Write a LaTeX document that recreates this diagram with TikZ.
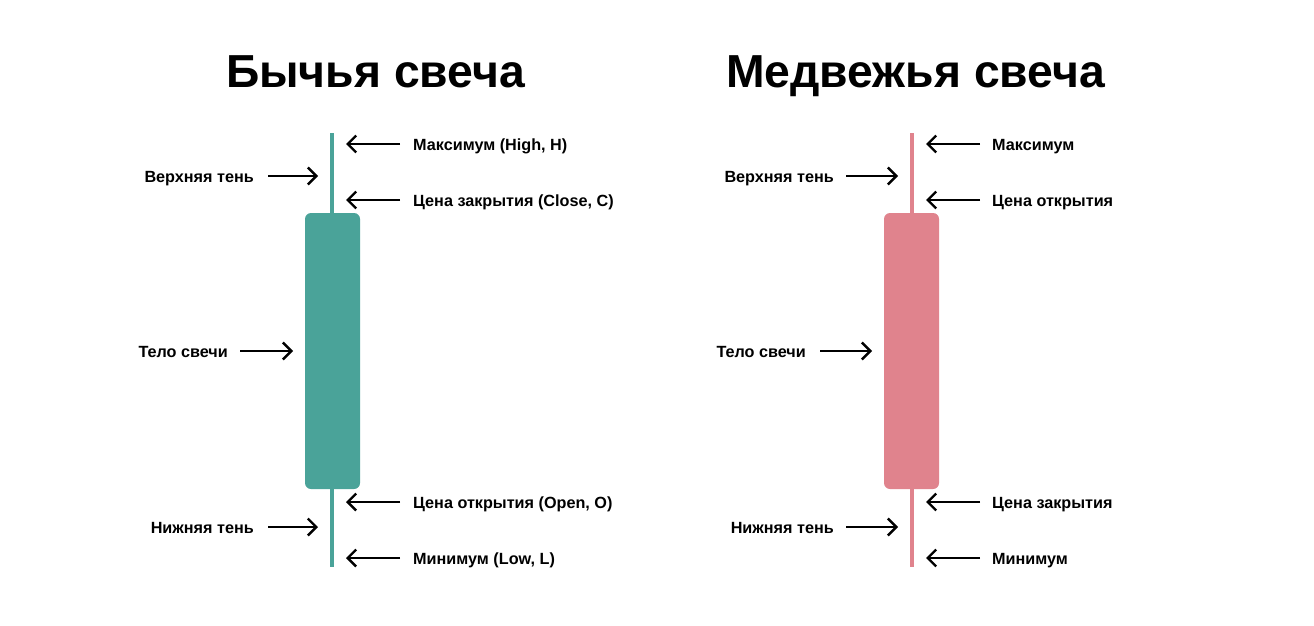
\documentclass[tikz,border=0pt]{standalone}
\usepackage{fontspec}
\setmainfont{Liberation Sans}
\usetikzlibrary{arrows.meta}
\definecolor{bull}{HTML}{4AA399}
\definecolor{bear}{HTML}{E0838D}
\begin{document}
\begin{tikzpicture}[x=1pt,y=-1pt,
  lbl/.style={font=\bfseries\fontsize{16.2}{18}\selectfont, inner sep=0pt},
  ttl/.style={font=\bfseries\fontsize{46.3}{54}\selectfont, inner sep=0pt},
  ptr/.style={line width=2.4pt, -{Straight Barb[length=8.5pt,width=17pt,line width=2.4pt]}},
  wickstyle/.style={line width=4pt},
  candle/.style={rounded corners=6pt, minimum width=55pt, minimum height=276pt, inner sep=0pt, draw=none}
]
\useasboundingbox[fill=white] (0,0) rectangle (1314,626);

% Titles
\node[ttl, anchor=base] (t1) at (375.5,88) {Бычья свеча};
\node[ttl, anchor=base] (t2) at (915.5,88) {Медвежья свеча};

% Bullish candle
\coordinate (wLtop) at (332,133);
\coordinate (wLbot) at (332,567);
\draw[wickstyle, bull] (wLtop) -- (wLbot);
\node[candle, fill=bull] (bodyL) at (332.5,351) {};

% Bearish candle
\coordinate (wRtop) at (912,133);
\coordinate (wRbot) at (912,567);
\draw[wickstyle, bear] (wRtop) -- (wRbot);
\node[candle, fill=bear] (bodyR) at (911.5,351) {};

% Left candle right-side labels
\node[lbl, anchor=base west] (lHigh) at (413,150) {Максимум (High, H)};
\node[lbl, anchor=base west] (lClose) at (413,206) {Цена закрытия (Close, C)};
\node[lbl, anchor=base west] (lOpen) at (413,508) {Цена открытия (Open, O)};
\node[lbl, anchor=base west] (lLow) at (413,564) {Минимум (Low, L)};
\foreach \n/\y in {a/144,b/200,c/502,d/558}{
  \coordinate (lt\n) at (400,\y);
  \coordinate (lh\n) at (346,\y);
  \draw[ptr] (lt\n) -- (lh\n);
}

% Left candle left-side labels
\node[lbl, anchor=base east] (lUp) at (254,182) {Верхняя тень};
\node[lbl, anchor=base east] (lBody) at (228,357) {Тело свечи};
\node[lbl, anchor=base east] (lDn) at (254,533) {Нижняя тень};
\coordinate (lua) at (268,176); \coordinate (lub) at (318,176);
\coordinate (lba) at (240,351); \coordinate (lbb) at (293,351);
\coordinate (lda) at (268,527); \coordinate (ldb) at (318,527);
\draw[ptr] (lua) -- (lub);
\draw[ptr] (lba) -- (lbb);
\draw[ptr] (lda) -- (ldb);

% Right candle right-side labels
\node[lbl, anchor=base west] (rHigh) at (992,150) {Максимум};
\node[lbl, anchor=base west] (rOpen) at (992,206) {Цена открытия};
\node[lbl, anchor=base west] (rClose) at (992,508) {Цена закрытия};
\node[lbl, anchor=base west] (rLow) at (992,564) {Минимум};
\foreach \n/\y in {a/144,b/200,c/502,d/558}{
  \coordinate (rt\n) at (980,\y);
  \coordinate (rh\n) at (926,\y);
  \draw[ptr] (rt\n) -- (rh\n);
}

% Right candle left-side labels
\node[lbl, anchor=base east] (rUp) at (834,182) {Верхняя тень};
\node[lbl, anchor=base east] (rBody) at (806,357) {Тело свечи};
\node[lbl, anchor=base east] (rDn) at (834,533) {Нижняя тень};
\coordinate (rua) at (846,176); \coordinate (rub) at (898,176);
\coordinate (rba) at (820,351); \coordinate (rbb) at (872,351);
\coordinate (rda) at (846,527); \coordinate (rdb) at (898,527);
\draw[ptr] (rua) -- (rub);
\draw[ptr] (rba) -- (rbb);
\draw[ptr] (rda) -- (rdb);
\end{tikzpicture}
\end{document}
